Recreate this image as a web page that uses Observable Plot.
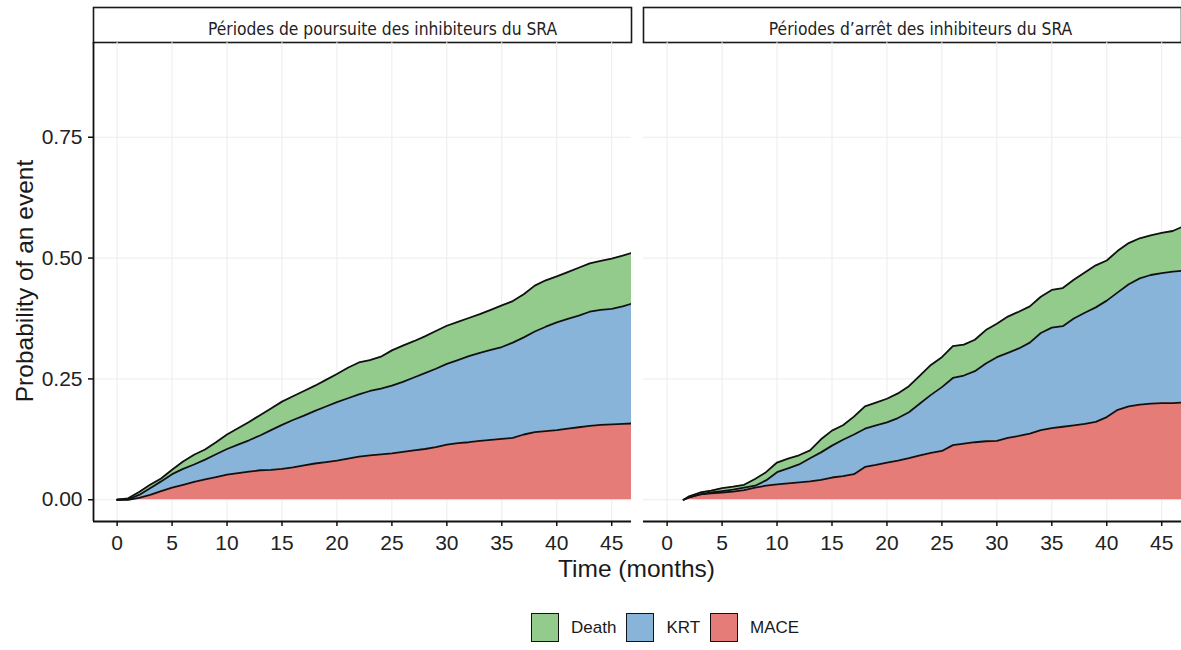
<!DOCTYPE html>
<html>
<head>
<meta charset="utf-8">
<script src="https://cdn.jsdelivr.net/npm/d3@7"></script>
<script src="https://cdn.jsdelivr.net/npm/@observablehq/plot@0.6"></script>
<style>
  body { margin: 0; background: #fff; }
  #wrap { position: relative; width: 1181px; height: 650px; font-family: "Liberation Sans", Arial, sans-serif; color: #1a1a1a; }
  #wrap svg { position: absolute; left: 0; top: 0; }
  .ytitle { position: absolute; left: 24.5px; top: 280.5px; transform: translate(-50%, -50%) rotate(-90deg); white-space: nowrap; font-size: 24.5px; line-height: 1; }
  .xtitle { position: absolute; left: 436.5px; width: 400px; top: 557px; text-align: center; font-size: 24.5px; line-height: 24px; white-space: nowrap; }
  .legend { position: absolute; left: 531px; top: 613px; display: flex; align-items: center; font-size: 17px; }
  .legend .item { display: flex; align-items: center; margin-right: 10px; }
  .legend .key { width: 26px; height: 27px; border: 1.8px solid #111; margin-right: 12px; }
</style>
</head>
<body>
<div id="wrap"></div>
<script>
// ---- data ----
const facetLabels = ["Périodes de poursuite des inhibiteurs du SRA", "Périodes d’arrêt des inhibiteurs du SRA"];
const events = ["Death", "KRT", "MACE"];
const stackOrder = ["MACE", "KRT", "Death"];
const eventColors = ["#92CB8C", "#88B4DA", "#E57C78"];

// Periods where RAS inhibitors were continued (months)
const timeCont = [0,1,2,3,4,5,6,7,8,9,10,11,12,13,14,15,16,17,18,19,20,21,22,23,24,25,26,27,28,29,30,31,32,33,34,35,36,37,38,39,40,41,42,43,44,45,46,47];
const maceCont = [0,0.000,0.004,0.010,0.018,0.025,0.031,0.037,0.042,0.047,0.052,0.055,0.058,0.061,0.062,0.064,0.067,0.071,0.075,0.078,0.081,0.085,0.089,0.092,0.094,0.096,0.099,0.102,0.105,0.109,0.114,0.117,0.119,0.122,0.124,0.126,0.128,0.135,0.140,0.142,0.144,0.147,0.150,0.153,0.155,0.156,0.157,0.158];
const krtCont = [0,0.001,0.006,0.014,0.020,0.028,0.033,0.036,0.041,0.047,0.053,0.059,0.065,0.072,0.082,0.091,0.098,0.103,0.109,0.115,0.121,0.125,0.129,0.133,0.136,0.140,0.145,0.151,0.157,0.162,0.167,0.172,0.178,0.182,0.186,0.190,0.197,0.201,0.208,0.216,0.223,0.227,0.231,0.236,0.238,0.239,0.243,0.249];
const deathCont = [0,0.002,0.006,0.007,0.006,0.009,0.015,0.020,0.021,0.025,0.030,0.034,0.038,0.042,0.045,0.048,0.049,0.051,0.052,0.055,0.058,0.063,0.066,0.064,0.066,0.073,0.075,0.075,0.076,0.078,0.079,0.079,0.079,0.080,0.083,0.086,0.086,0.089,0.095,0.096,0.095,0.097,0.099,0.100,0.101,0.104,0.105,0.105];

// Periods where RAS inhibitors were stopped (months)
const timeStop = [1.5,2,3,4,5,6,7,8,9,10,11,12,13,14,15,16,17,18,19,20,21,22,23,24,25,26,27,28,29,30,31,32,33,34,35,36,37,38,39,40,41,42,43,44,45,46,47];
const maceStop = [0,0.005,0.011,0.013,0.015,0.017,0.020,0.025,0.029,0.032,0.034,0.036,0.038,0.041,0.046,0.049,0.053,0.068,0.072,0.077,0.081,0.086,0.092,0.097,0.101,0.113,0.116,0.119,0.121,0.122,0.128,0.132,0.137,0.144,0.148,0.151,0.154,0.157,0.161,0.171,0.186,0.193,0.197,0.199,0.200,0.200,0.201];
const krtStop = [0,0,0,0.002,0.003,0.004,0.005,0.004,0.011,0.025,0.031,0.037,0.048,0.057,0.066,0.075,0.082,0.079,0.082,0.083,0.088,0.095,0.107,0.120,0.132,0.139,0.141,0.147,0.161,0.173,0.176,0.181,0.188,0.201,0.208,0.208,0.221,0.230,0.237,0.241,0.243,0.253,0.261,0.266,0.269,0.272,0.273];
const deathStop = [0,0.002,0.004,0.004,0.006,0.006,0.006,0.014,0.017,0.020,0.020,0.019,0.016,0.027,0.031,0.030,0.037,0.046,0.047,0.049,0.051,0.054,0.058,0.062,0.062,0.066,0.064,0.065,0.069,0.069,0.075,0.076,0.075,0.075,0.078,0.079,0.080,0.083,0.087,0.083,0.086,0.085,0.083,0.082,0.083,0.084,0.092];

const xTicks = [0,5,10,15,20,25,30,35,40,45];
const yTicks = [0,0.25,0.5,0.75];
const xDomain = [-2.15, 46.8];
const yDomain = [-0.045, 0.946];

// ---- tidy table ----
const panels = [
  {facet: facetLabels[0], time: timeCont, values: {MACE: maceCont, KRT: krtCont, Death: deathCont}},
  {facet: facetLabels[1], time: timeStop, values: {MACE: maceStop, KRT: krtStop, Death: deathStop}}
];
const rows = panels.flatMap(p => p.time.flatMap((t, i) => events.map(e => ({facet: p.facet, t, event: e, v: p.values[e][i]}))));

const stripFont = "'DejaVu Sans Condensed', 'Liberation Sans Narrow', 'Open Sans', sans-serif";

const plot = Plot.plot({
  width: 1181,
  height: 600,
  marginLeft: 93,
  marginRight: 0,
  marginTop: 42,
  marginBottom: 79,
  style: {fontFamily: "'Liberation Sans', Arial, sans-serif", color: "#1a1a1a", background: "transparent"},
  fx: {domain: facetLabels, paddingInner: 12 / 550, paddingOuter: 0, axis: null, label: null},
  x: {domain: xDomain},
  y: {domain: yDomain},
  color: {domain: events, range: eventColors},
  marks: [
    // strips
    Plot.frame({fill: "white", stroke: "#1a1a1a", strokeWidth: 1.6, insetTop: -35, insetBottom: 479}),
    Plot.text([facetLabels[0]], {fx: d => d, text: d => d, frameAnchor: "top", dy: -20, dx: 20, fontSize: 17.3, fontFamily: stripFont, fill: "#222"}),
    Plot.text([facetLabels[1]], {fx: d => d, text: d => d, frameAnchor: "top", dy: -20, dx: 8, fontSize: 17.3, fontFamily: stripFont, fill: "#222"}),
    // grid
    Plot.gridX({ticks: xTicks, stroke: "#ececec", strokeOpacity: 1, strokeWidth: 1}),
    Plot.gridY({ticks: yTicks, stroke: "#ececec", strokeOpacity: 1, strokeWidth: 1}),
    // stacked areas
    Plot.areaY(rows, {x: "t", y: "v", z: "event", fill: "event", fx: "facet", order: stackOrder, curve: "linear", clip: true}),
    Plot.lineY(rows, Plot.stackY2({x: "t", y: "v", z: "event", fx: "facet", order: stackOrder, curve: "linear", stroke: "#111", strokeWidth: 1.8, clip: true})),
    // axis lines
    Plot.ruleY([yDomain[0]], {stroke: "#111", strokeWidth: 1.8}),
    Plot.ruleX([xDomain[0]], {fx: () => facetLabels[0], stroke: "#111", strokeWidth: 1.8}),
    // axes
    Plot.axisX({ticks: xTicks, tickSize: 5, tickPadding: 9, fontSize: 21, label: null, stroke: "#111", strokeWidth: 1.5, fill: "#222"}),
    Plot.axisY({ticks: yTicks, tickFormat: d3.format(".2f"), tickSize: 5, tickPadding: 6, fontSize: 21, label: null, stroke: "#111", strokeWidth: 1.5, fill: "#222"})
  ]
});

const wrap = document.getElementById("wrap");
wrap.appendChild(plot);

const yt = document.createElement("div");
yt.className = "ytitle";
yt.textContent = "Probability of an event";
wrap.appendChild(yt);

const xt = document.createElement("div");
xt.className = "xtitle";
xt.textContent = "Time (months)";
wrap.appendChild(xt);

const color = plot.scale("color");
const legend = document.createElement("div");
legend.className = "legend";
color.domain.forEach((e, i) => {
  const item = document.createElement("div");
  item.className = "item";
  const key = document.createElement("span");
  key.className = "key";
  key.style.background = color.range[i];
  const lab = document.createElement("span");
  lab.textContent = e;
  item.appendChild(key);
  item.appendChild(lab);
  legend.appendChild(item);
});
wrap.appendChild(legend);
</script>
</body>
</html>
